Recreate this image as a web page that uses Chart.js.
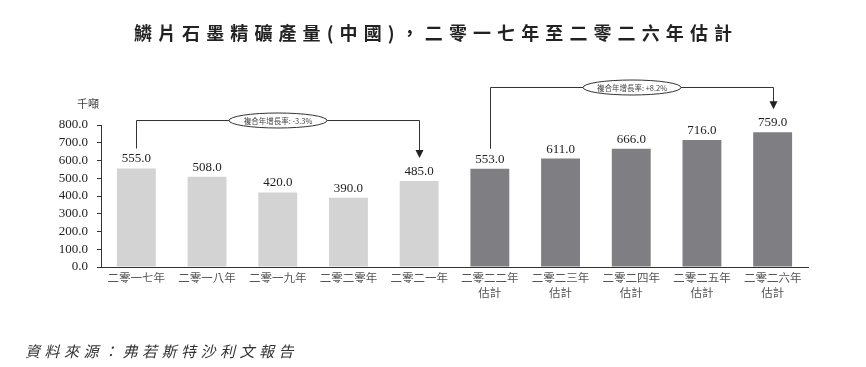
<!DOCTYPE html>
<html><head><meta charset="utf-8">
<script src="https://cdn.jsdelivr.net/npm/chart.js@4.4.1/dist/chart.umd.min.js"></script>
<style>html,body{margin:0;padding:0;background:#fff;}#wrap{width:866px;height:367px;position:relative;}</style>
</head><body><div id="wrap"><canvas id="c" width="866" height="367"></canvas></div>
<script>
const titleText = "鱗片石墨精礦產量(中國)，二零一七年至二零二六年估計";
const unitLabel = "千噸";
const sourceText = "資料來源：弗若斯特沙利文報告";
const categories = [["二零一七年"],["二零一八年"],["二零一九年"],["二零二零年"],["二零二一年"],["二零二二年","估計"],["二零二三年","估計"],["二零二四年","估計"],["二零二五年","估計"],["二零二六年","估計"]];
const values = [555.0, 508.0, 420.0, 390.0, 485.0, 553.0, 611.0, 666.0, 716.0, 759.0];
const isEstimate = [false,false,false,false,false,true,true,true,true,true];
const yTicks = [0,100,200,300,400,500,600,700,800];
const cagrLabels = ["複合年增長率: -3.3%", "複合年增長率: +8.2%"];
const cagrRanges = [[0,4],[5,9]];
const cagrLevels = [828, 1014];

const LIGHT = "#d3d3d3", DARK = "#7f7f83";

const deco = {
  id: "deco",
  afterDraw(chart) {
    const ctx = chart.ctx;
    const meta = chart.getDatasetMeta(0);
    const ys = chart.scales.y;
    ctx.save();
    // title
    ctx.fillStyle = "#222";
    ctx.font = "bold 18px 'Noto Sans CJK TC'";
    ctx.letterSpacing = "6.1px";
    ctx.textAlign = "left"; ctx.textBaseline = "middle";
    const tw = ctx.measureText(titleText).width;
    ctx.fillText(titleText, 436 - tw/2, 33);
    // source
    ctx.font = "italic 15px 'Noto Sans CJK TC'";
    ctx.letterSpacing = "4.5px";
    ctx.fillStyle = "#333";
    ctx.fillText(sourceText, 25, 351);
    ctx.letterSpacing = "0px";
    // unit
    ctx.font = "11px 'Noto Sans CJK TC'";
    ctx.fillStyle = "#444";
    ctx.textAlign = "center";
    ctx.fillText(unitLabel, 88, 104);
    // value labels
    ctx.font = "13px 'Liberation Serif'";
    ctx.fillStyle = "#222";
    ctx.textBaseline = "alphabetic";
    meta.data.forEach((bar, i) => {
      ctx.fillText(values[i].toFixed(1), bar.x, bar.y - 6);
    });
    // brackets
    ctx.strokeStyle = "#333"; ctx.lineWidth = 1;
    cagrRanges.forEach((r, k) => {
      const b0 = meta.data[r[0]], b1 = meta.data[r[1]];
      const x0 = Math.round(b0.x) + 0.5, x1 = Math.round(b1.x) + 0.5;
      const yTop = Math.round(ys.getPixelForValue(cagrLevels[k])) + 0.5;
      const yStart = b0.y - 20;
      const yTip = b1.y - 23;
      ctx.beginPath();
      ctx.moveTo(x0, yStart); ctx.lineTo(x0, yTop); ctx.lineTo(x1, yTop); ctx.lineTo(x1, yTip - 7);
      ctx.stroke();
      ctx.beginPath();
      ctx.moveTo(x1 - 4, yTip - 8); ctx.lineTo(x1 + 4, yTip - 8); ctx.lineTo(x1, yTip);
      ctx.closePath(); ctx.fillStyle = "#222"; ctx.fill();
      // ellipse
      const cx = x0 + (x1 - x0) * 0.5;
      ctx.beginPath();
      ctx.ellipse(cx, yTop, 49, 7.5, 0, 0, Math.PI * 2);
      ctx.fillStyle = "#fff"; ctx.fill(); ctx.stroke();
      ctx.fillStyle = "#444";
      ctx.font = "7.5px 'Noto Sans CJK TC'";
      ctx.textAlign = "center"; ctx.textBaseline = "middle";
      ctx.fillText(cagrLabels[k], cx, yTop + 0.5);
    });
    ctx.restore();
  }
};

new Chart(document.getElementById("c"), {
  type: "bar",
  data: {
    labels: categories,
    datasets: [{
      data: values,
      backgroundColor: isEstimate.map(e => e ? DARK : LIGHT),
      borderWidth: 0,
      categoryPercentage: 1,
      barPercentage: 0.55
    }]
  },
  options: {
    responsive: false,
    animation: false,
    events: [],
    layout: { padding: { left: 0, right: 58, top: 125, bottom: 40 } },
    plugins: { legend: { display: false }, tooltip: { enabled: false }, title: { display: false } },
    scales: {
      x: {
        grid: { display: false, drawTicks: false, tickLength: 0 },
        border: { display: true, color: "#333", width: 1 },
        ticks: {
          color: "#555", padding: 3, maxRotation: 0, autoSkip: false,
          font: { family: "'Noto Sans CJK TC'", size: 11.5, lineHeight: 1.3 }
        },
        afterFit(s) { s.height = 60; }
      },
      y: {
        min: 0, max: 800,
        afterBuildTicks(s) { s.ticks = yTicks.map(v => ({ value: v })); },
        grid: { drawOnChartArea: false, drawTicks: true, tickLength: 4, color: "#333" },
        border: { display: true, color: "#333", width: 1 },
        ticks: {
          color: "#222", padding: 9, autoSkip: false,
          font: { family: "'Liberation Serif'", size: 13 },
          callback: v => Number(v).toFixed(1)
        },
        afterFit(s) { s.width = 101; }
      }
    }
  },
  plugins: [deco]
});
</script></body></html>
